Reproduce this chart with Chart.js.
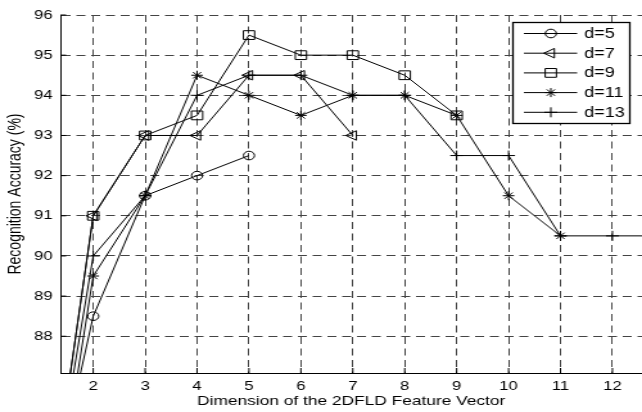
<!DOCTYPE html>
<html>
<head>
<meta charset="utf-8">
<script src="https://cdn.jsdelivr.net/npm/chart.js@4.4.1/dist/chart.umd.min.js"></script>
<style>
  html, body { margin: 0; padding: 0; background: #fff; }
  canvas { display: block; }
</style>
</head>
<body>
<!-- drawn at 500px wide, then stretched to 642px like the original figure -->
<canvas id="chart" width="500" height="412" style="width:642px;height:412px"></canvas>
<script>
const dims = [1, 2, 3, 4, 5, 6, 7, 8, 9, 10, 11, 12, 13];
const xTicks = [2, 3, 4, 5, 6, 7, 8, 9, 10, 11, 12];
const yTicks = [88, 89, 90, 91, 92, 93, 94, 95, 96];

const acc5 = [82.7, 88.5, 91.5, 92, 92.5];
const acc7 = [82.1, 91, 93, 93, 94.5, 94.5, 93];
const acc9 = [82.1, 91, 93, 93.5, 95.5, 95, 95, 94.5, 93.5];
const acc11 = [81.4, 89.5, 91.5, 94.5, 94, 93.5, 94, 94, 93.5, 91.5, 90.5];
const acc13 = [82.3, 90, 91.5, 94, 94.5, 94.5, 94, 94, 92.5, 92.5, 90.5, 90.5, 90.5];

const labels = ['d=5', 'd=7', 'd=9', 'd=11', 'd=13'];
const FONT = "'Liberation Sans', Arial, Helvetica, sans-serif";

const series = [
  { values: acc5, style: 'circle', rot: 0, r: 4.3 },
  { values: acc7, style: 'triangle', rot: -90, r: 5.5 },
  { values: acc9, style: 'rect', rot: 0, r: 6.2 },
  { values: acc11, style: 'star', rot: 0, r: 4.5 },
  { values: acc13, style: 'cross', rot: 0, r: 5 }
];

const datasets = series.map((s, i) => ({
  label: labels[i],
  data: dims.map((d, j) => ({ x: d, y: s.values[j] })).filter(p => p.y != null),
  borderColor: '#000',
  borderWidth: 1,
  backgroundColor: 'rgba(0,0,0,0)',
  pointStyle: s.style,
  pointRotation: s.rot,
  pointRadius: s.r,
  pointBorderColor: '#000',
  pointBackgroundColor: 'rgba(0,0,0,0)',
  pointBorderWidth: 1,
  tension: 0
}));

// matlab style ticks, pointing into the plot
const innerTicks = {
  id: 'innerTicks',
  afterDatasetsDraw(chart) {
    const { ctx, chartArea: a, scales: { x, y } } = chart;
    ctx.save();
    ctx.strokeStyle = '#000';
    ctx.lineWidth = 1;
    ctx.beginPath();
    xTicks.forEach(v => {
      const px = x.getPixelForValue(v);
      ctx.moveTo(px, a.bottom);
      ctx.lineTo(px, a.bottom - 5);
    });
    yTicks.forEach(v => {
      const py = y.getPixelForValue(v);
      ctx.moveTo(a.left, py);
      ctx.lineTo(a.left + 4.5, py);
    });
    ctx.stroke();
    ctx.restore();
  }
};

// boxed legend in the top right corner
const boxLegend = {
  id: 'boxLegend',
  afterDraw(chart) {
    const ctx = chart.ctx;
    const bx = 399.5, by = 22.5, bw = 91, bh = 101;
    ctx.save();
    ctx.fillStyle = '#fff';
    ctx.fillRect(bx, by, bw, bh);
    ctx.strokeStyle = '#000';
    ctx.lineWidth = 1.3;
    ctx.strokeRect(bx, by, bw, bh);
    chart.data.datasets.forEach((ds, i) => {
      const cy = 33.5 + i * 19.7;
      ctx.lineWidth = 1;
      ctx.strokeStyle = '#000';
      ctx.beginPath();
      ctx.moveTo(408, cy);
      ctx.lineTo(449.5, cy);
      ctx.stroke();
      ctx.fillStyle = 'rgba(0,0,0,0)';
      Chart.helpers.drawPoint(ctx, {
        pointStyle: ds.pointStyle, rotation: ds.pointRotation,
        radius: ds.pointRadius, borderWidth: 1
      }, 429, cy);
      ctx.fillStyle = '#000';
      ctx.font = '14px ' + FONT;
      ctx.textBaseline = 'middle';
      ctx.textAlign = 'left';
      ctx.fillText(ds.label, 455, cy + 0.5);
    });
    ctx.restore();
  }
};

new Chart(document.getElementById('chart'), {
  type: 'line',
  data: { datasets },
  plugins: [innerTicks, boxLegend],
  options: {
    responsive: false,
    animation: false,
    devicePixelRatio: 1,
    layout: { autoPadding: false, padding: { top: 15, right: 0, bottom: 0, left: 0 } },
    plugins: { legend: { display: false }, tooltip: { enabled: false } },
    scales: {
      x: {
        type: 'linear',
        min: 1.367,
        max: 12.57,
        afterBuildTicks: s => { s.ticks = xTicks.map(v => ({ value: v })); },
        afterFit: s => { s.height = 39; s.paddingLeft = 0; s.paddingRight = 0; },
        grid: { color: '#444', lineWidth: 1, drawTicks: false },
        border: { display: true, color: '#000', width: 1, dash: [7, 4.5] },
        ticks: { color: '#000', font: { family: FONT, size: 13 }, padding: 6, maxRotation: 0, autoSkip: false },
        title: {
          display: true, text: 'Dimension of the 2DFLD Feature Vector', color: '#000',
          font: { family: FONT, size: 13.5 }, padding: { top: 0, bottom: 3 }
        }
      },
      y: {
        min: 87.085,
        max: 96,
        afterBuildTicks: s => { s.ticks = yTicks.map(v => ({ value: v })); },
        afterFit: s => { s.width = 47; s.paddingTop = 0; s.paddingBottom = 0; },
        grid: { color: '#444', lineWidth: 1, drawTicks: false },
        border: { display: true, color: '#000', width: 1, dash: [7, 4.5] },
        ticks: { color: '#000', font: { family: FONT, size: 13 }, padding: 6 },
        title: {
          display: true, text: 'Recognition Accuracy (%)', color: '#000',
          font: { family: FONT, size: 14 }, padding: { top: 4, bottom: 0 }
        }
      }
    }
  }
});
</script>
</body>
</html>
